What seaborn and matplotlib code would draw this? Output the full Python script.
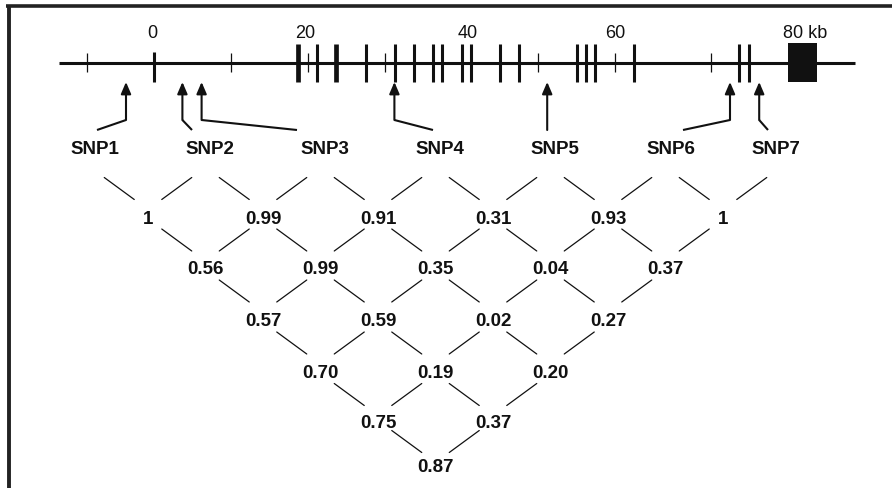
import numpy as np
import matplotlib
matplotlib.use("Agg")
import matplotlib.pyplot as plt
from matplotlib.patches import Rectangle
import seaborn as sns

# --- data (positions in kb along the gene) ---
snp_names = ["SNP1", "SNP2", "SNP3", "SNP4", "SNP5", "SNP6", "SNP7"]
snp_kb = [-3.25, 3.8, 6.2, 30.3, 49.4, 72.25, 75.9]

exon_kb = [18.25, 20.6, 23.0, 26.75, 30.4, 32.75, 35.1, 36.25, 38.75, 39.9,
           43.5, 45.9, 53.1, 54.25, 55.4, 60.25, 73.4, 74.6]
wide_exon_kb = [18.25, 23.0]
start_kb = 0.25
minor_kb = [-8.1, 9.9, 19.5, 29.1, 48.25, 57.9, 69.9]
gene_span_kb = (-11.6, 87.9)
last_exon_kb = (79.5, 83.1)

scale_labels = ["0", "20", "40", "60", "80 kb"]
scale_kb = [0, 19.1, 39.4, 57.9, 81.6]

# pairwise LD, row d holds SNP pairs (i, i+d)
ld_d1 = ["1", "0.99", "0.91", "0.31", "0.93", "1"]
ld_d2 = ["0.56", "0.99", "0.35", "0.04", "0.37"]
ld_d3 = ["0.57", "0.59", "0.02", "0.27"]
ld_d4 = ["0.70", "0.19", "0.20"]
ld_d5 = ["0.75", "0.37"]
ld_d6 = ["0.87"]
ld_rows = [ld_d1, ld_d2, ld_d3, ld_d4, ld_d5, ld_d6]

# --- layout (pixels of the 892x489 canvas) ---
W, H = 892, 489
X0, PX_PER_KB = 152, 8.0
TRACK_Y = 63.5
label_px = [95, 210, 325, 440, 555, 671, 776]
elbow_px = [97, 192, 297, 433, None, 683, 768]
row_y = [219, 269, 321, 373, 424, 467]
TOP_Y = 166
FS = 13.5


def kb(px):
    return (px - X0) / PX_PER_KB


def slot(k):
    return 90.5 + 115 * k


sns.set_theme(style="white")
plt.rcParams["font.family"] = ["Liberation Sans", "DejaVu Sans"]

fig = plt.figure(figsize=(W / 100, H / 100), dpi=100)
ax = fig.add_axes([0, 0, 1, 1])
ax.set_xlim(kb(0), kb(W))
ax.set_ylim(H, 0)
ax.axis("off")

ink = "#111111"

# frame (top + left)
ax.plot([kb(6), kb(W)], [7, 7], color="#222222", lw=2.6, solid_capstyle="butt")
ax.plot([kb(9), kb(9)], [6, H], color="#222222", lw=2.8, solid_capstyle="butt")

# gene track
ax.plot(gene_span_kb, [TRACK_Y, TRACK_Y], color=ink, lw=2.2, solid_capstyle="butt")
ax.vlines(minor_kb, 54, 73, color=ink, lw=0.9)
ax.vlines([start_kb], 53, 83, color=ink, lw=2.2)
narrow = [e for e in exon_kb if e not in wide_exon_kb]
ax.vlines(narrow, 45, 83, color=ink, lw=2.2)
ax.vlines(wide_exon_kb, 45, 83, color=ink, lw=3.4)
ax.add_patch(Rectangle((last_exon_kb[0], 44), last_exon_kb[1] - last_exon_kb[0], 39,
                       color=ink, lw=0))

for lab, pos in zip(scale_labels, scale_kb):
    ax.text(pos, 34, lab, ha="center", va="center", fontsize=13, color=ink)

# SNP arrows and labels
for name, pos, lx, ex in zip(snp_names, snp_kb, label_px, elbow_px):
    bottom = 121 if ex is not None else 131
    ax.annotate("", xy=(pos, 83), xytext=(pos, bottom),
                arrowprops=dict(arrowstyle="-|>,head_length=0.7,head_width=0.3",
                                mutation_scale=10, lw=1.5, color=ink,
                                shrinkA=0, shrinkB=0))
    if ex is not None:
        ax.plot([pos, kb(ex)], [121, 131], color=ink, lw=1.5, solid_capstyle="butt")
    ax.text(kb(lx), 150, name, ha="center", va="center", fontsize=FS,
            fontweight="bold", color=ink)


# LD triangle
def node(d, m):
    return slot(m) + 57.5 * d, row_y[d - 1]


def seg(p, c):
    mx = (p[0] + c[0]) / 2
    my = (p[1] + c[1]) / 2 - 3
    s = 1 if c[0] > p[0] else -1
    ax.plot([kb(mx - 15 * s), kb(mx + 15 * s)], [my - 11, my + 11],
            color=ink, lw=0.9)


for d, vals in enumerate(ld_rows, start=1):
    for m, v in enumerate(vals):
        x, y = node(d, m)
        ax.text(kb(x), y, v, ha="center", va="center", fontsize=FS,
                fontweight="bold", color=ink)
        if d == 1:
            parents = [(slot(m), TOP_Y), (slot(m + 1), TOP_Y)]
        else:
            parents = [node(d - 1, m), node(d - 1, m + 1)]
        for p in parents:
            seg(p, (x, y))

fig.savefig("out.png", dpi=100, facecolor="white")
